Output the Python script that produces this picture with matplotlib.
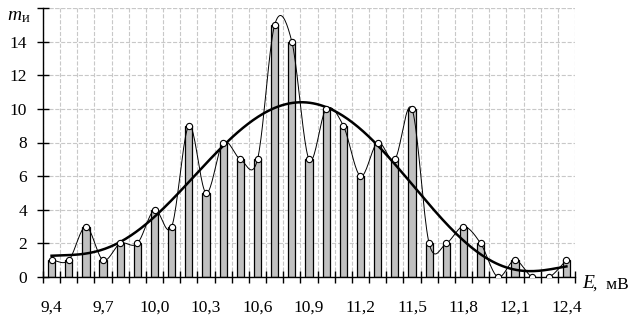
import matplotlib.pyplot as plt
import numpy as np

E = [9.4, 9.5, 9.6, 9.7, 9.8, 9.9, 10.0, 10.1, 10.2, 10.3, 10.4, 10.5, 10.6,
     10.7, 10.8, 10.9, 11.0, 11.1, 11.2, 11.3, 11.4, 11.5, 11.6, 11.7, 11.8,
     11.9, 12.0, 12.1, 12.2, 12.3, 12.4]
m = [1, 1, 3, 1, 2, 2, 4, 3, 9, 5, 8, 7, 7, 15, 14, 7, 10, 9, 6, 8, 7, 10,
     2, 2, 3, 2, 0, 1, 0, 0, 1]
xlabels = ['9,4', '9,7', '10,0', '10,3', '10,6', '10,9', '11,2', '11,5',
           '11,8', '12,1', '12,4']

plt.rcParams['font.family'] = 'Liberation Serif'

x = np.array(E)
y = np.array(m, dtype=float)


def smooth(xs, ys, n=20):
    # catmull-rom curve through the points, for drawing only
    px = np.concatenate([[2 * xs[0] - xs[1]], xs, [2 * xs[-1] - xs[-2]]])
    py = np.concatenate([[2 * ys[0] - ys[1]], ys, [2 * ys[-1] - ys[-2]]])
    cx, cy = [], []
    t = np.linspace(0, 1, n, endpoint=False)
    for i in range(1, len(px) - 2):
        for p, c in ((px, cx), (py, cy)):
            p0, p1, p2, p3 = p[i - 1], p[i], p[i + 1], p[i + 2]
            c.extend(0.5 * (2 * p1 + (-p0 + p2) * t
                            + (2 * p0 - 5 * p1 + 4 * p2 - p3) * t ** 2
                            + (-p0 + 3 * p1 - 3 * p2 + p3) * t ** 3))
    cx.append(xs[-1])
    cy.append(ys[-1])
    return np.array(cx), np.array(cy)


fig = plt.figure(figsize=(6.33, 3.2), dpi=100)
ax = fig.add_axes([43 / 633, 43 / 320, 532 / 633, 269 / 320])

ax.bar(x, y, width=0.042, color='#c0c0c0', edgecolor='black', linewidth=0.9, zorder=2)

sx, sy = smooth(x, y)
ax.plot(sx, sy, color='black', linewidth=0.7, zorder=3)

# polynomial trend (degree 6)
coef = np.polyfit(x - 10.9, y, 6)
fx = np.linspace(x[0], x[-1], 300)
ax.plot(fx, np.polyval(coef, fx - 10.9), color='black', linewidth=1.8, zorder=4)

ax.plot(x, y, 'o', markersize=4.5, markerfacecolor='white', markeredgecolor='black',
        markeredgewidth=0.8, zorder=5)

ax.set_xlim(9.35, 12.45)
ax.set_ylim(0, 16)
ax.set_xticks(x[::3])
ax.set_xticklabels(xlabels)
ax.set_xticks(np.arange(9.35, 12.46, 0.1), minor=True)
ax.set_yticks(range(0, 17, 2))
ax.set_yticklabels([str(v) for v in range(0, 15, 2)] + [''])
ax.tick_params(axis='x', which='major', length=0, pad=16, labelsize=12.5)
ax.tick_params(axis='x', which='minor', direction='inout', length=8, width=1)
ax.tick_params(axis='y', direction='inout', length=9, width=1, labelsize=12.5, pad=7)

ax.grid(True, which='minor', axis='x', color='#c8c8c8', linestyle='--', linewidth=0.8)
ax.grid(True, which='major', axis='y', color='#c8c8c8', linestyle='--', linewidth=0.8)
ax.axhline(16, color='#c8c8c8', linestyle='--', linewidth=0.8, zorder=0)
ax.set_axisbelow(True)
for s in ['top', 'right']:
    ax.spines[s].set_visible(False)
ax.spines['left'].set_linewidth(1)
ax.spines['bottom'].set_linewidth(1)

fig.text(7 / 633, 1 - 15 / 320, 'm', style='italic', fontsize=14, va='center')
fig.text(22 / 633, 1 - 18 / 320, 'и', fontsize=10.5, va='center')
fig.text(582 / 633, 1 - 284 / 320, 'E', style='italic', fontsize=14, va='center')
fig.text(593 / 633, 1 - 285 / 320, ',  мВ', fontsize=12.5, va='center')

fig.savefig('out.png', dpi=100)
